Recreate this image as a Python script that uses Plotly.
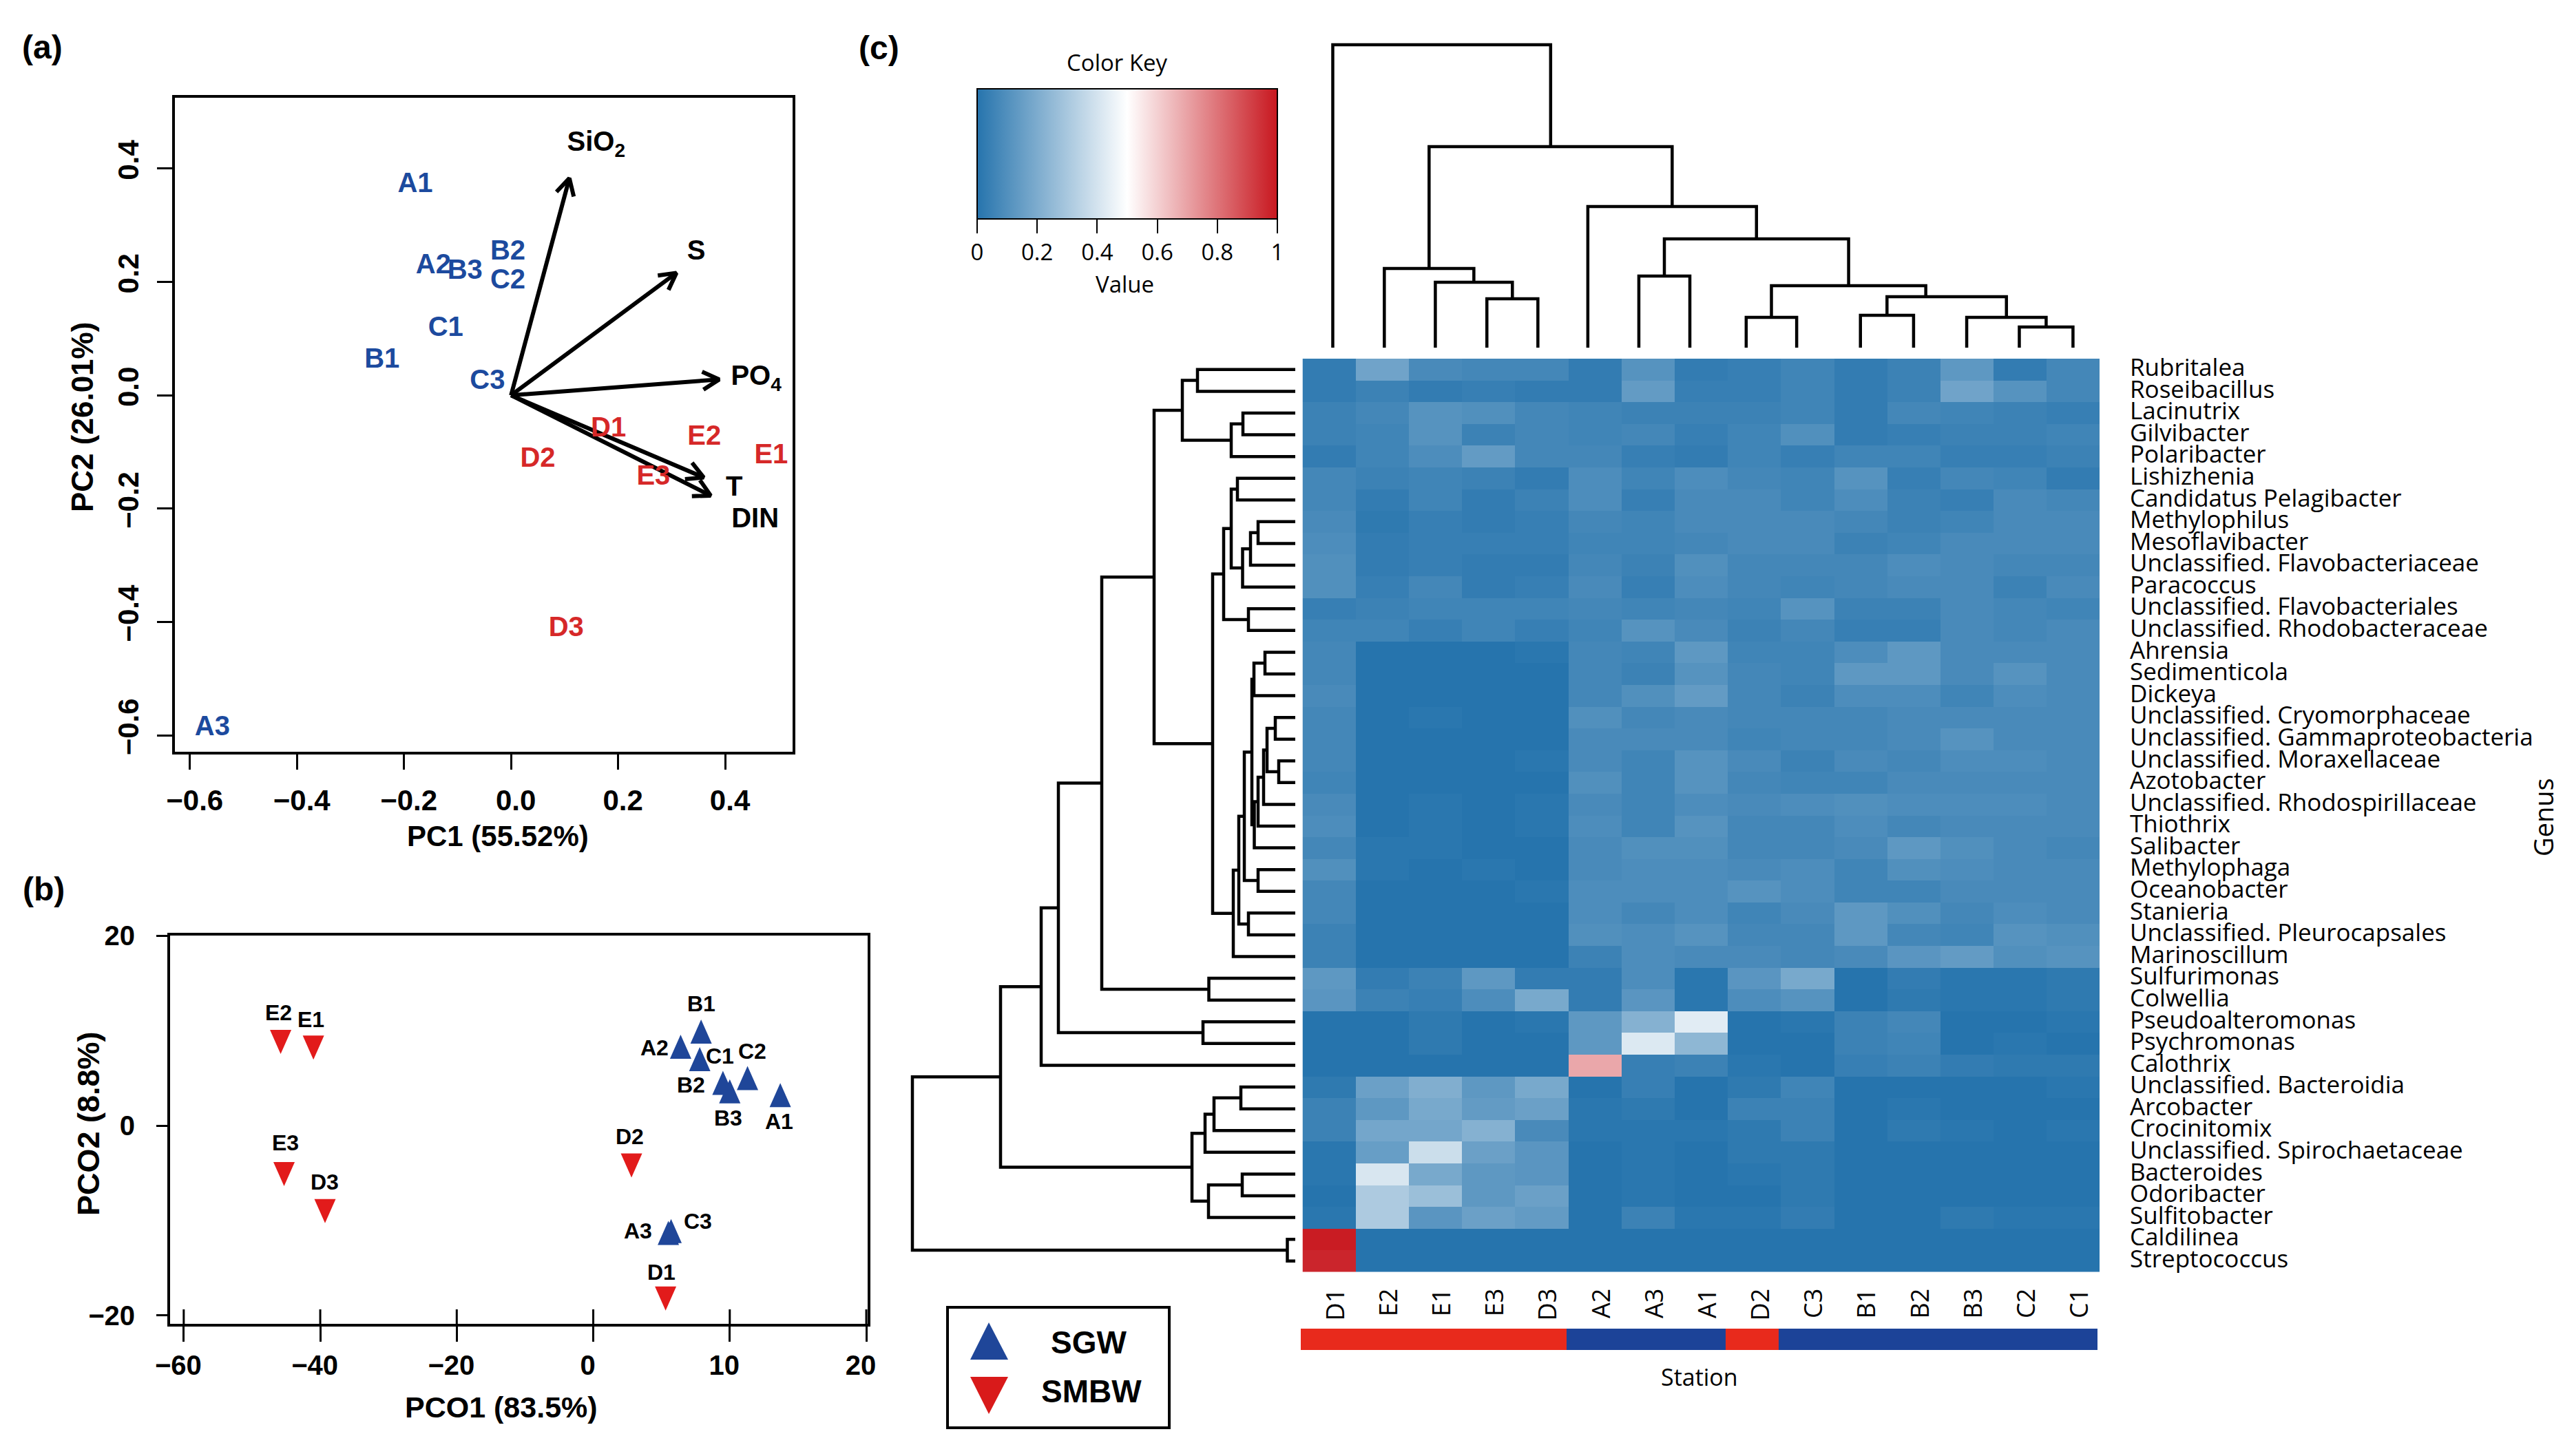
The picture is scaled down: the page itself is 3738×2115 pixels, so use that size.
import plotly.graph_objects as go

W, H = 3738, 2115
def X(p): return p / W
def Y(p): return 1 - p / H

BLUE_T = "#1c4a9e"
RED_T = "#d62828"
FONT = "Liberation Sans"
SANS = "Open Sans"

# ---------- panel (a)
pca_blue_names = ["A1", "A2", "B3", "B2", "C2", "C1", "B1", "C3", "A3"]
pca_blue_pc1 = [-0.179, -0.145, -0.086, -0.006, -0.006, -0.122, -0.241, -0.044, -0.558]
pca_blue_pc2 = [0.376, 0.232, 0.222, 0.256, 0.206, 0.122, 0.066, 0.028, -0.583]
pca_red_names = ["D1", "E2", "E1", "E3", "D2", "D3"]
pca_red_pc1 = [0.182, 0.361, 0.486, 0.266, 0.050, 0.103]
pca_red_pc2 = [-0.056, -0.070, -0.103, -0.141, -0.109, -0.408]
vector_names = ["SiO<sub>2</sub>", "S", "PO<sub>4</sub>", "T", "DIN"]
vector_pc1 = [0.109, 0.309, 0.389, 0.360, 0.373]
vector_pc2 = [0.383, 0.216, 0.028, -0.145, -0.177]
vector_label_pc1 = [0.159, 0.346, 0.458, 0.417, 0.456]
vector_label_pc2 = [0.448, 0.257, 0.035, -0.160, -0.216]
pca_ticks_x = [-0.6, -0.4, -0.2, 0.0, 0.2, 0.4]
pca_ticks_y = [-0.6, -0.4, -0.2, 0.0, 0.2, 0.4]

# ---------- panel (b); the printed x axis runs twice as fast right of 0
pco_up_names = ["B1", "A2", "C1", "C2", "B2", "B3", "A1", "A3", "C3"]
pco_up_x = [7.9, 6.4, 7.8, 11.3, 9.5, 10.0, 13.7, 5.5, 5.7]
pco_up_y = [9.9, 8.3, 7.0, 5.0, 4.5, 3.6, 3.2, -11.3, -11.1]
pco_down_names = ["E2", "E1", "E3", "D3", "D2", "D1"]
pco_down_x = [-45.8, -41.0, -45.3, -39.3, 2.8, 5.3]
pco_down_y = [8.8, 8.2, -5.1, -9.0, -4.2, -18.2]
pco_ticks_x = [-60, -40, -20, 0, 10, 20]
pco_ticks_y = [-20, 0, 20]
pco_label_offsets = {"B1": (0, 40), "A2": (-38, -2), "C1": (29, 4), "C2": (7, 39), "B2": (-46, -3),
                     "B3": (-2, -39), "A1": (-2, -38), "A3": (-44, 3), "C3": (39, 14),
                     "E2": (-3, 43), "E1": (-4, 41), "E3": (2, 45), "D3": (-1, 42), "D2": (-3, 42), "D1": (-6, 38)}

# ---------- panel (c)
stations = ["D1", "E2", "E1", "E3", "D3", "A2", "A3", "A1", "D2", "C3", "B1", "B2", "B3", "C2", "C1"]
genera = ["Rubritalea", "Roseibacillus", "Lacinutrix", "Gilvibacter", "Polaribacter", "Lishizhenia",
          "Candidatus Pelagibacter", "Methylophilus", "Mesoflavibacter", "Unclassified. Flavobacteriaceae",
          "Paracoccus", "Unclassified. Flavobacteriales", "Unclassified. Rhodobacteraceae", "Ahrensia",
          "Sedimenticola", "Dickeya", "Unclassified. Cryomorphaceae", "Unclassified. Gammaproteobacteria",
          "Unclassified. Moraxellaceae", "Azotobacter", "Unclassified. Rhodospirillaceae", "Thiothrix",
          "Salibacter", "Methylophaga", "Oceanobacter", "Stanieria", "Unclassified. Pleurocapsales",
          "Marinoscillum", "Sulfurimonas", "Colwellia", "Pseudoalteromonas", "Psychromonas", "Calothrix",
          "Unclassified. Bacteroidia", "Arcobacter", "Crocinitomix", "Unclassified. Spirochaetaceae",
          "Bacteroides", "Odoribacter", "Sulfitobacter", "Caldilinea", "Streptococcus"]
abundance = [
    [.03, .17, .08, .07, .07, .03, .11, .03, .04, .06, .03, .05, .13, .03, .07],
    [.03, .05, .03, .04, .03, .03, .14, .04, .04, .06, .03, .05, .17, .11, .07],
    [.05, .07, .11, .10, .07, .06, .05, .05, .05, .06, .03, .07, .06, .05, .04],
    [.05, .06, .11, .05, .07, .06, .07, .04, .06, .10, .03, .04, .05, .05, .06],
    [.03, .06, .09, .14, .07, .07, .04, .03, .06, .04, .06, .06, .04, .04, .05],
    [.07, .05, .06, .05, .03, .09, .06, .09, .07, .06, .11, .04, .07, .06, .03],
    [.07, .03, .06, .03, .05, .09, .04, .08, .08, .06, .09, .05, .04, .08, .07],
    [.08, .02, .04, .03, .04, .07, .06, .08, .08, .08, .07, .05, .06, .08, .08],
    [.09, .03, .04, .04, .04, .06, .06, .07, .08, .08, .05, .06, .08, .08, .08],
    [.10, .03, .04, .03, .03, .07, .05, .10, .07, .07, .07, .09, .08, .07, .07],
    [.10, .04, .07, .03, .04, .08, .04, .09, .07, .06, .07, .08, .08, .05, .08],
    [.04, .05, .06, .06, .06, .07, .06, .07, .06, .11, .05, .05, .08, .07, .06],
    [.06, .06, .04, .06, .04, .06, .11, .08, .05, .07, .04, .04, .08, .07, .08],
    [.07, 0, 0, 0, .01, .07, .06, .13, .06, .06, .09, .13, .08, .08, .08],
    [.07, 0, 0, 0, 0, .07, .05, .11, .07, .06, .13, .13, .08, .11, .08],
    [.08, 0, 0, 0, 0, .07, .10, .14, .07, .05, .09, .09, .06, .09, .08],
    [.07, 0, .01, 0, 0, .10, .07, .08, .07, .07, .07, .08, .08, .08, .08],
    [.07, 0, 0, 0, 0, .08, .08, .08, .06, .07, .07, .08, .11, .08, .08],
    [.07, 0, 0, 0, .01, .08, .06, .11, .08, .05, .08, .07, .09, .09, .08],
    [.06, 0, 0, 0, 0, .10, .06, .11, .07, .06, .06, .08, .08, .08, .08],
    [.08, 0, .01, 0, .01, .08, .06, .09, .08, .09, .10, .09, .09, .09, .08],
    [.09, 0, .01, 0, .01, .09, .06, .11, .07, .07, .09, .07, .08, .08, .08],
    [.07, .01, .01, 0, 0, .08, .10, .10, .07, .07, .08, .13, .10, .08, .07],
    [.10, .01, 0, .01, 0, .08, .09, .09, .08, .09, .06, .10, .09, .08, .08],
    [.07, 0, 0, 0, .01, .09, .09, .09, .11, .09, .06, .06, .08, .08, .08],
    [.07, 0, 0, 0, 0, .09, .07, .09, .06, .08, .13, .10, .07, .09, .08],
    [.05, 0, 0, 0, 0, .10, .09, .11, .07, .07, .13, .07, .06, .11, .10],
    [.05, 0, 0, 0, 0, .05, .09, .08, .08, .07, .08, .12, .14, .10, .11],
    [.13, .03, .05, .13, .03, .03, .09, .01, .12, .19, 0, .03, .01, .01, .02],
    [.12, .05, .04, .09, .19, .03, .12, .01, .09, .11, 0, .02, .01, .01, .02],
    [0, 0, .02, 0, .01, .13, .22, .43, 0, .01, .05, .07, 0, 0, .01],
    [0, 0, .02, 0, 0, .13, .42, .24, 0, 0, .05, .06, 0, .01, 0],
    [0, 0, 0, 0, 0, .69, .04, .05, .01, 0, .04, .05, .03, .02, .02],
    [.02, .16, .21, .13, .19, 0, .04, 0, .02, .06, 0, 0, 0, 0, .01],
    [.05, .13, .19, .14, .16, .01, .02, 0, .05, .05, 0, .01, 0, 0, 0],
    [.05, .18, .18, .22, .08, .01, .01, .01, .02, .05, 0, .02, .01, 0, .01],
    [.01, .15, .38, .16, .12, 0, .01, 0, .02, .02, 0, 0, 0, 0, 0],
    [.01, .41, .19, .13, .12, 0, .01, 0, .01, .02, 0, 0, 0, 0, 0],
    [0, .31, .27, .13, .16, 0, .01, 0, 0, .02, 0, 0, 0, 0, 0],
    [.01, .31, .12, .16, .14, 0, .05, .01, .01, .03, 0, 0, .02, .01, .01],
    [.99, 0, 0, 0, 0, 0, 0, 0, 0, 0, 0, 0, 0, 0, 0],
    [.97, 0, 0, 0, 0, 0, 0, 0, 0, 0, 0, 0, 0, 0, 0],
]
key_ticks = [0, 0.2, 0.4, 0.6, 0.8, 1]

# Merge trees: (height, left, right[, attach position]), an int is a leaf index.
column_leaf_pos = [0.07, 1.04, 2.0, 2.97, 3.93, 4.87, 5.83, 6.79, 7.85, 8.8, 10, 11, 12, 12.99, 14]
column_tree = (440, 0, (292,
    (115, 1, (95, 2, (71, 3, 4))),
    (205, 5, (158, (104, 6, 7),
              (90, (44, 8, 9), (74, (47, 10, 11), (44, 12, (30, 13, 14)), 11.23))))))
_g3 = (164, (142, 0, 1), (93, (76, 2, 3), 4))
_up = (104, (93, (84, 5, 6), (76.5, (65, (54, 7, 8), 9), 10)), (68, 11, 12))
_x3 = (63, (60, (44, 13, 14), 15),
       (59.5, (54, (46, (41, (29, 16, 17), (24, 18, 19)), 20), 21), 22))
_low = (90, (82, (74, _x3, (54, 23, 24)), (68, 25, 26)), 27)
_n783 = (281, (205, _g3, (120, _up, _low)), (125.5, 28, 29))
row_tree = (556,
    (428, (369, (344, _n783, (134, 30, 31)), 32),
     (150, (131, (118, (79, 33, 34), 35), 36), (126, (77, 37, 38), 39))),
    (11.5, 40, 41))


def dendro(tree, leaf_pos=None):
    pos, hgt = [], []
    def walk(n):
        if isinstance(n, int):
            return (leaf_pos[n] if leaf_pos else n), 0
        h, l, r = n[:3]
        pl, hl = walk(l)
        pr, hr = walk(r)
        pos.extend([pl, pl, pr, pr, None])
        hgt.extend([hl, h, h, hr, None])
        return (n[3] if len(n) > 3 else (pl + pr) / 2), h
    walk(tree)
    return pos, hgt


fig = go.Figure()

# ---- (a)
A_L, A_R, A_T, A_B = 254, 1151, 142, 1092
A_SX, A_SY = 777, 823
BARB, HALF = 24, 13
TEXT_DROP = 4 / A_SY
vx, vy = [], []
for x1, y1 in zip(vector_pc1, vector_pc2):
    ux, uy = x1 * A_SX, y1 * A_SY
    n = (ux ** 2 + uy ** 2) ** 0.5
    ux, uy = ux / n, uy / n
    b1 = (x1 - (BARB * ux - HALF * uy) / A_SX, y1 - (BARB * uy + HALF * ux) / A_SY)
    b2 = (x1 - (BARB * ux + HALF * uy) / A_SX, y1 - (BARB * uy - HALF * ux) / A_SY)
    vx += [0, x1, None, b1[0], x1, b2[0], None]
    vy += [0, y1, None, b1[1], y1, b2[1], None]
fig.add_trace(go.Scatter(x=vx, y=vy, mode="lines", line=dict(color="black", width=6),
                         xaxis="x", yaxis="y", showlegend=False))
for names, xs, ys, col in [(pca_blue_names, pca_blue_pc1, pca_blue_pc2, BLUE_T),
                           (pca_red_names, pca_red_pc1, pca_red_pc2, RED_T),
                           (vector_names, vector_label_pc1, vector_label_pc2, "black")]:
    fig.add_trace(go.Scatter(x=xs, y=[v - TEXT_DROP for v in ys], text=names, mode="text",
                             textposition="middle center",
                             textfont=dict(family=FONT, size=40, color=col, weight="bold"),
                             xaxis="x", yaxis="y", showlegend=False))

# ---- (b)
B_L, B_R, B_T, B_B = 247, 1260, 1359, 1923
B_SX, B_SY = 9.91, 13.8
def stretch(v):
    return v * 2 if v > 0 else v
TRI_W, TRI_H = 31, 35
def triangles(xs, ys, up, col):
    dx = TRI_W / 2 / B_SX
    dy = TRI_H / 2 / B_SY
    s = 1 if up else -1
    px, py = [], []
    for a, b in zip(xs, ys):
        u = stretch(a)
        px += [u - dx, u + dx, u, u - dx, None]
        py += [b - s * dy, b - s * dy, b + s * dy, b - s * dy, None]
    return go.Scatter(x=px, y=py, mode="lines", fill="toself", fillcolor=col, line=dict(width=0, color=col),
                      xaxis="x2", yaxis="y2", showlegend=False)
fig.add_trace(triangles(pco_up_x, pco_up_y, True, "#1f4699"))
fig.add_trace(triangles(pco_down_x, pco_down_y, False, "#e21b1b"))

# ---- (c)
fig.add_trace(go.Heatmap(
    z=abundance, x=stations, y=genera, xaxis="x3", yaxis="y3", zmin=0, zmax=1,
    colorscale=[[0, "#2674ad"], [0.5, "#ffffff"], [1, "#c8171f"]], xgap=0, ygap=0,
    colorbar=dict(orientation="h", x=X(1419), xanchor="left", y=Y(129), yanchor="top",
                  len=436, lenmode="pixels", thickness=189, thicknessmode="pixels",
                  xpad=0, ypad=0, tickmode="array", tickvals=key_ticks,
                  ticktext=[str(t) for t in key_ticks], ticks="outside", ticklen=20, tickwidth=1.5,
                  tickcolor="black", outlinecolor="black", outlinewidth=2,
                  tickfont=dict(family=SANS, size=33, color="black"))))
station_group = [[1 if s[0] in "DE" else 0 for s in stations]]
fig.add_trace(go.Heatmap(z=station_group, x=stations, y=["Station"], xaxis="x6", yaxis="y6",
                         zmin=0, zmax=1, showscale=False,
                         colorscale=[[0, "#1c4398"], [1, "#e82a1c"]]))
cx, cy = dendro(column_tree, column_leaf_pos)
fig.add_trace(go.Scatter(x=cx, y=cy, mode="lines", line=dict(color="black", width=4.5), xaxis="x4", yaxis="y4",
                         showlegend=False))
rx, ry = dendro(row_tree)
fig.add_trace(go.Scatter(x=ry, y=rx, mode="lines", line=dict(color="black", width=4.5), xaxis="x5", yaxis="y5",
                         showlegend=False))

H_L, H_R, H_T, H_B = 1891.5, 3049, 521, 1847.5
hidden = dict(visible=False, showgrid=False, zeroline=False)
tick_a = dict(family=FONT, size=42, color="black", weight="bold")
tick_b = dict(family=FONT, size=40, color="black", weight="bold")
frame = dict(showline=True, mirror=True, linecolor="black", linewidth=4, showgrid=False, zeroline=False,
             ticks="outside", tickcolor="black", tickwidth=3)

layout = dict(
    width=W, height=H, autosize=False, margin=dict(l=0, r=0, t=0, b=0, pad=0, autoexpand=False),
    paper_bgcolor="white", plot_bgcolor="white", showlegend=False,
    xaxis=dict(domain=[X(A_L), X(A_R)], range=[-0.628, 0.526], anchor="y", tickmode="array",
               tickvals=pca_ticks_x, ticktext=[f"{t:.1f}".replace("-", "\u2212") for t in pca_ticks_x],
               ticklen=22, tickfont=tick_a, ticklabelstandoff=9, ticklabelshift=7, **frame),
    yaxis=dict(domain=[Y(A_B), Y(A_T)], range=[-0.629, 0.525], anchor="x", tickmode="array",
               tickvals=pca_ticks_y, ticktext=[f"{t:.1f}".replace("-", "\u2212") for t in pca_ticks_y],
               ticklen=22, tickangle=-90, tickfont=tick_a, ticklabelstandoff=10, ticklabelshift=-6, **frame),
    xaxis2=dict(domain=[X(B_L), X(B_R)], range=[-62, 40.2], anchor="y2", tickmode="array",
                tickvals=[stretch(t) for t in pco_ticks_x],
                ticktext=[str(t).replace("-", "\u2212") for t in pco_ticks_x],
                ticklen=22, tickfont=tick_b, ticklabelstandoff=0, ticklabelshift=-8, **frame),
    yaxis2=dict(domain=[Y(B_B), Y(B_T)], range=[-20.87, 20], anchor="x2", tickmode="array",
                tickvals=pco_ticks_y, ticktext=[str(t).replace("-", "\u2212") for t in pco_ticks_y],
                ticklen=16, tickfont=tick_b, ticklabelstandoff=23, **frame),
    xaxis3=dict(domain=[X(H_L), X(H_R)], anchor="y3", type="category", categoryorder="array", categoryarray=stations,
                tickangle=-90, ticks="", showgrid=False, zeroline=False, ticklabelstandoff=16, ticklabelshift=10,
                tickfont=dict(family=SANS, size=36, color="black")),
    yaxis3=dict(domain=[Y(H_B), Y(H_T)], anchor="x3", side="right", type="category", categoryorder="array",
                categoryarray=genera[::-1], ticks="", showgrid=False, zeroline=False, ticklabelstandoff=43,
                ticklabelshift=-3, tickfont=dict(family=SANS, size=35, color="black"), dtick=1, tickmode="array",
                tickvals=genera, ticktext=genera),
    xaxis4=dict(domain=[X(H_L), X(H_R)], range=[-0.5, 14.5], anchor="y4", **hidden),
    yaxis4=dict(domain=[Y(505), Y(45)], range=[0, 460], anchor="x4", **hidden),
    xaxis5=dict(domain=[X(1300), X(1881)], range=[581, 0], anchor="y5", **hidden),
    yaxis5=dict(domain=[Y(H_B), Y(H_T)], range=[41.5, -0.5], anchor="x5", **hidden),
    xaxis6=dict(domain=[X(1889), X(3046)], anchor="y6", type="category", categoryorder="array",
                categoryarray=stations, **hidden),
    yaxis6=dict(domain=[Y(1961), Y(1930)], anchor="x6", **hidden),
)

def note(text, px, py, size, family=FONT, bold=True, angle=0):
    return dict(text=text, x=X(px), y=Y(py), xref="paper", yref="paper", showarrow=False,
                xanchor="center", yanchor="middle", textangle=angle,
                font=dict(family=family, size=size, color="black", weight="bold" if bold else "normal"))

annotations = [
    note("(a)", 61, 68, 48), note("(b)", 64, 1291, 48), note("(c)", 1276, 69, 48),
    note("PC1 (55.52%)", 723, 1214, 42), note("PC2 (26.01%)", 120, 606, 44, angle=-90),
    note("PCO1 (83.5%)", 728, 2044, 43), note("PCO2 (8.8%)", 128, 1632, 45, angle=-90),
    note("Color Key", 1622, 91, 33, SANS, False), note("Value", 1633, 412, 33, SANS, False),
    note("Station", 2468, 2000, 34, SANS, False), note("Genus", 3693, 1187, 38, SANS, False, -90),
    note("SGW", 1581, 1950, 46), note("SMBW", 1585, 2021, 46),
]
for names, xs, ys in [(pco_up_names, pco_up_x, pco_up_y), (pco_down_names, pco_down_x, pco_down_y)]:
    for n, a, b in zip(names, xs, ys):
        dx, dy = pco_label_offsets[n]
        annotations.append(dict(text=n, x=stretch(a), y=b, xref="x2", yref="y2", showarrow=False,
                                xshift=dx, yshift=dy, xanchor="center", yanchor="middle",
                                font=dict(family=FONT, size=32, color="black", weight="bold")))
layout["annotations"] = annotations

def P(px, py):
    return f"{X(px)} {Y(py)}"
shapes = [
    dict(type="rect", xref="paper", yref="paper", x0=X(1376), x1=X(1698), y0=Y(2074), y1=Y(1899),
         line=dict(color="black", width=4), fillcolor="rgba(0,0,0,0)"),
    dict(type="path", xref="paper", yref="paper", path=f"M{P(1409, 1975)} L{P(1464, 1975)} L{P(1436, 1921)} Z",
         fillcolor="#1f4699", line=dict(width=0)),
    dict(type="path", xref="paper", yref="paper", path=f"M{P(1409, 2000)} L{P(1464, 2000)} L{P(1436, 2054)} Z",
         fillcolor="#d91a1a", line=dict(width=0)),
]
for t in pco_ticks_x:
    shapes.append(dict(type="line", xref="x2", yref="paper", x0=stretch(t), x1=stretch(t),
                       y0=Y(B_B), y1=Y(B_B - 21), line=dict(color="black", width=3)))
layout["shapes"] = shapes

fig.update_layout(**layout)
fig.write_html("out.html", config=dict(displayModeBar=False), post_script="document.body.style.margin='0';")
